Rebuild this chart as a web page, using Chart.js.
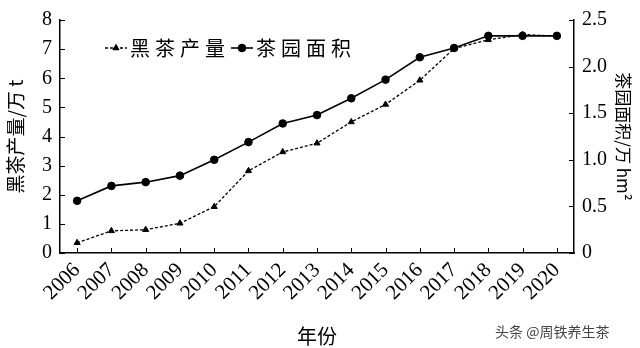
<!DOCTYPE html>
<html><head><meta charset="utf-8">
<script src="https://cdn.jsdelivr.net/npm/chart.js@4/dist/chart.umd.min.js"></script>
<style>html,body{margin:0;padding:0;background:#fff}</style>
</head><body>
<canvas id="c" width="640" height="348"></canvas>
<script>
const years = ['2006','2007','2008','2009','2010','2011','2012','2013','2014','2015','2016','2017','2018','2019','2020'];
const blackTeaOutput = [0.35,0.76,0.80,1.02,1.59,2.82,3.47,3.77,4.50,5.10,5.93,7.02,7.32,7.50,7.45];
const teaGardenArea = [0.56,0.72,0.76,0.83,1.00,1.19,1.39,1.48,1.66,1.86,2.10,2.20,2.33,2.33,2.33];
const leftTicks = [0,1,2,3,4,5,6,7,8];
const rightTicks = ['0','0.5','1.0','1.5','2.0','2.5'];
const seriesNames = ['黑茶产量','茶园面积'];
const leftTitle = '黑茶产量/万 t';
const rightTitle = '茶园面积/万 hm²';
const xTitle = '年份';
const watermark = '头条 @周铁养生茶';

const SERIF = "'Liberation Serif','Times New Roman','Noto Sans CJK SC',serif";
const CJK = "'Noto Sans CJK SC','Liberation Serif',sans-serif";

const innerTicks = {
  id:'innerTicks',
  afterDraw(chart){
    const {ctx, chartArea:a, scales} = chart;
    ctx.save();
    ctx.strokeStyle='#000'; ctx.lineWidth=1;
    const L=5;
    scales.y.ticks.forEach((t,i)=>{const y=Math.round(scales.y.getPixelForTick(i))+0.5; ctx.beginPath(); ctx.moveTo(a.left,y); ctx.lineTo(a.left+L,y); ctx.stroke();});
    scales.y2.ticks.forEach((t,i)=>{const y=Math.round(scales.y2.getPixelForTick(i))+0.5; ctx.beginPath(); ctx.moveTo(a.right-L,y); ctx.lineTo(a.right,y); ctx.stroke();});
    scales.x.ticks.forEach((t,i)=>{const x=Math.round(scales.x.getPixelForTick(i))+0.5; ctx.beginPath(); ctx.moveTo(x,a.bottom); ctx.lineTo(x,a.bottom-L); ctx.stroke();});
    // legend
    const ly = a.top + 28;
    const items = chart.data.datasets;
    let x = a.left + 45;
    ctx.font = "20px " + CJK;
    ctx.letterSpacing = '5px';
    ctx.textBaseline='middle';
    ctx.fillStyle='#000';
    items.forEach((ds,i)=>{
      ctx.save();
      ctx.lineWidth = ds.borderWidth;
      ctx.setLineDash(ds.borderDash||[]);
      ctx.beginPath(); ctx.moveTo(x,ly); ctx.lineTo(x+22,ly); ctx.stroke();
      ctx.restore();
      Chart.helpers.drawPoint(ctx,{pointStyle:ds.pointStyle,radius:ds.pointRadius,rotation:0,borderWidth:1},x+11,ly);
      ctx.fillStyle='#000';
      ctx.fill();
      ctx.fillText(ds.label, x+25, ly);
      const w = ctx.measureText(ds.label).width;
      x += 25 + w + 1;
    });
    ctx.letterSpacing = '0px';
    // watermark
    ctx.font = "14px " + CJK;
    ctx.fillStyle = '#444';
    ctx.textAlign='left';
    ctx.fillText(watermark, 495, 332);
    ctx.restore();
  }
};

new Chart(document.getElementById('c'), {
  type:'line',
  data:{
    labels: years,
    datasets:[
      {label:seriesNames[0], data:blackTeaOutput, yAxisID:'y', borderColor:'#000', backgroundColor:'#000',
       borderWidth:1.3, borderDash:[3,2], pointStyle:'triangle', pointRadius:3.5, pointBorderWidth:1, tension:0},
      {label:seriesNames[1], data:teaGardenArea, yAxisID:'y2', borderColor:'#000', backgroundColor:'#000',
       borderWidth:1.6, pointStyle:'circle', pointRadius:3.8, pointBorderWidth:1, tension:0}
    ]
  },
  options:{
    responsive:false, animation:false, devicePixelRatio:1,
    layout:{padding:{top:12,left:0,right:0,bottom:0}},
    plugins:{legend:{display:false}, tooltip:{enabled:false}},
    scales:{
      x:{type:'category', offset:true,
         grid:{display:false, drawTicks:false},
         border:{display:true,color:'#000',width:1.5},
         ticks:{autoSkip:false,maxRotation:45,minRotation:45,color:'#000',font:{family:SERIF,size:21},padding:5},
         title:{display:true,text:xTitle,color:'#000',font:{family:CJK,size:20},padding:{top:0,bottom:0}},
         afterFit(s){s.height=95;}
      },
      y:{position:'left', min:0, max:8,
         grid:{display:false, drawTicks:false},
         border:{display:true,color:'#000',width:1.5},
         afterBuildTicks(s){s.ticks = leftTicks.map(v=>({value:v}));},
         ticks:{color:'#000',font:{family:SERIF,size:20},padding:8, callback:(v)=>String(v)},
         title:{display:true,text:leftTitle,color:'#000',font:{family:CJK,size:19},padding:{top:4,bottom:0}},
         afterFit(s){s.width=60;}
      },
      y2:{position:'right', min:0, max:2.5,
         grid:{display:false, drawTicks:false},
         border:{display:true,color:'#000',width:1.5},
         afterBuildTicks(s){s.ticks = rightTicks.map(v=>({value:parseFloat(v)}));},
         ticks:{color:'#000',font:{family:SERIF,size:20},padding:8, callback:(v,i)=>rightTicks[i]},
         title:{display:true,text:rightTitle,color:'#000',font:{family:CJK,size:17},padding:{top:6,bottom:0}},
         afterFit(s){s.width=66;}
      }
    }
  },
  plugins:[innerTicks]
});
</script>
</body></html>
